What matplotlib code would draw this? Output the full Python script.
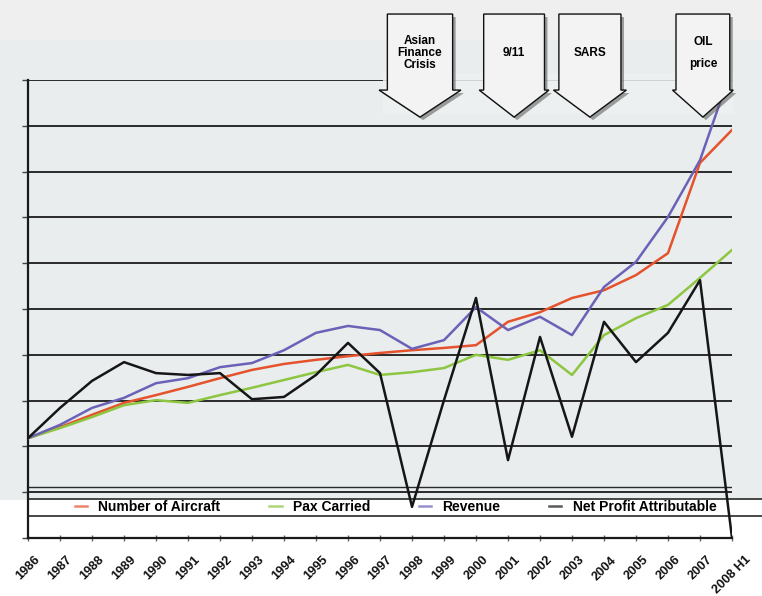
import matplotlib
matplotlib.use("Agg")
import matplotlib.pyplot as plt
import matplotlib.transforms as mtransforms
from matplotlib.patches import Rectangle, Polygon
from matplotlib.lines import Line2D

plt.rcParams['font.family'] = ['Liberation Sans', 'DejaVu Sans']

# values (index scale, one grid step = 1)
years = ['1986', '1987', '1988', '1989', '1990', '1991', '1992', '1993', '1994',
         '1995', '1996', '1997', '1998', '1999', '2000', '2001', '2002', '2003',
         '2004', '2005', '2006', '2007', '2008 H1']
aircraft = [2.18, 2.42, 2.69, 2.95, 3.12, 3.30, 3.49, 3.67, 3.80, 3.89, 3.97, 4.04,
            4.10, 4.15, 4.21, 4.72, 4.93, 5.24, 5.41, 5.74, 6.22, 8.19, 8.91]
pax = [2.18, 2.40, 2.64, 2.90, 3.01, 2.95, 3.12, 3.28, 3.45, 3.62, 3.78, 3.56,
       3.62, 3.71, 4.00, 3.89, 4.10, 3.56, 4.43, 4.80, 5.09, 5.68, 6.29]
revenue = [2.18, 2.47, 2.84, 3.06, 3.38, 3.49, 3.73, 3.82, 4.10, 4.48, 4.63, 4.54,
           4.13, 4.32, 5.04, 4.54, 4.83, 4.43, 5.48, 6.03, 7.01, 8.25, 10.26]
net_profit = [2.18, 2.84, 3.43, 3.84, 3.60, 3.56, 3.60, 3.03, 3.08, 3.56, 4.26, 3.60,
              0.68, 3.01, 5.24, 1.70, 4.39, 2.21, 4.72, 3.84, 4.48, 5.63, 0.0]

series_names = ['Number of Aircraft', 'Pax Carried', 'Revenue', 'Net Profit Attributable']
series_colors = ['#e5522c', '#8dc640', '#6b62b8', '#161616']

events = ['Asian\nFinance\nCrisis', '9/11', 'SARS', 'OIL\nprice']
event_x = [12.25, 15.19, 17.56, 21.09]

fig = plt.figure(figsize=(7.62, 5.96), dpi=100, facecolor='white')
# background bands
fig.patches.append(Rectangle((0, 1 - 500 / 596), 1, 460 / 596, transform=fig.transFigure,
                             facecolor='#e9eded', edgecolor='none', zorder=-10))
fig.patches.append(Rectangle((0, 1 - 40 / 596), 1, 40 / 596, transform=fig.transFigure,
                             facecolor='#efefef', edgecolor='none', zorder=-10))

ax = fig.add_axes([28 / 762, 1 - 538 / 596, 704 / 762, 458 / 596])
ax.set_facecolor('none')
ax.set_xlim(0, 22)
ax.set_ylim(0, 10)

# grid lines
for v in range(1, 11):
    ax.axhline(v, color='#2a2a2a', lw=1.4, zorder=1)
ax.axhline(1.11, color='#2a2a2a', lw=1.0, zorder=1)
# legend band lines running to the right edge
for yf in (0.085, 0.048):
    ax.plot([0, 1.042], [yf, yf], transform=ax.transAxes, color='#2a2a2a',
            lw=1.2, clip_on=False, zorder=1)

x = list(range(len(years)))
for vals, col in zip([aircraft, pax, revenue, net_profit], series_colors):
    ax.plot(x, vals, color=col, lw=1.8, zorder=3)

for s in ('top', 'right'):
    ax.spines[s].set_visible(False)
for s in ('left', 'bottom'):
    ax.spines[s].set_color('#1a1a1a')
    ax.spines[s].set_linewidth(1.6)

ax.set_yticks(range(0, 11))
ax.set_yticklabels([])
ax.tick_params(axis='y', direction='out', length=4, width=1, color='#444')
ax.set_xticks(x)
ax.set_xticklabels(years, rotation=45, ha='center', va='top',
                   fontsize=9.2, fontweight='bold', color='#111')
ax.tick_params(axis='x', direction='inout', length=5, width=1, color='#666', pad=9)

# light panel behind the arrows
trans = mtransforms.blended_transform_factory(ax.transData, ax.transAxes)
ax.add_patch(Rectangle((11.1, 0.925), 22.05 - 11.1, 0.09, transform=trans,
                       facecolor='#eef1f1', edgecolor='none', alpha=0.85,
                       zorder=1.5, clip_on=False))

# event arrows
body_half = [1.02, 0.95, 0.97, 0.84]
head_half = [1.28, 1.09, 1.14, 0.95]
y_top, y_neck, y_tip = 1.144, 0.978, 0.919
shadow = mtransforms.offset_copy(trans, fig=fig, x=3, y=-3, units='dots')
for label, c, bw, hw in zip(events, event_x, body_half, head_half):
    pts = [(c - bw, y_top), (c + bw, y_top), (c + bw, y_neck), (c + hw, y_neck),
           (c, y_tip), (c - hw, y_neck), (c - bw, y_neck)]
    ax.add_patch(Polygon(pts, closed=True, transform=shadow, facecolor='#555555',
                         edgecolor='none', alpha=0.55, clip_on=False, zorder=5))
    ax.add_patch(Polygon(pts, closed=True, transform=trans, facecolor='#f3f3f3',
                         edgecolor='#111111', lw=1.0, clip_on=False, zorder=6))
    ls = 2.2 if label.startswith('OIL') else 1.05
    ax.text(c, 1.059, label, transform=trans, ha='center', va='center',
            fontsize=8.5, fontweight='bold', linespacing=ls, zorder=7)

handles = [Line2D([0], [0], color=col, lw=1.8, alpha=0.7) for col in series_colors]
ax.legend(handles, series_names, loc='center', bbox_to_anchor=(0.522, 0.0677),
          ncol=4, frameon=False, handlelength=0.9, handletextpad=0.8,
          columnspacing=3.5, prop=dict(size=10, weight='bold'))

fig.savefig('out.png', dpi=100, facecolor=fig.get_facecolor())
